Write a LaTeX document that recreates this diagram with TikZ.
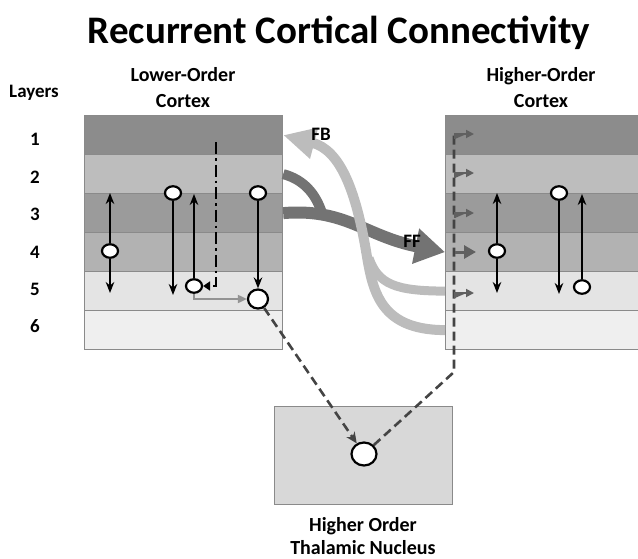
\documentclass[tikz,border=0pt]{standalone}
\usepackage{fontspec}
\setmainfont{Carlito}
\usetikzlibrary{arrows.meta,shapes.geometric}
\definecolor{laya}{HTML}{8C8C8C}
\definecolor{layb}{HTML}{BDBDBD}
\definecolor{layc}{HTML}{9B9B9B}
\definecolor{layd}{HTML}{B2B2B2}
\definecolor{laye}{HTML}{E4E4E4}
\definecolor{layf}{HTML}{EFEFEF}
\definecolor{edge}{HTML}{8A8A8A}
\definecolor{thal}{HTML}{D8D8D8}
\definecolor{ffcol}{HTML}{737373}
\definecolor{fbcol}{HTML}{BCBCBC}
\definecolor{loopgray}{HTML}{444444}
\tikzset{
  layer/.style={draw=edge, line width=1.2pt, rectangle, inner sep=0pt,
    minimum height=39pt, anchor=north west},
  neuron/.style={ellipse, draw=black, line width=2.2pt, fill=white, inner sep=0pt,
    minimum width=16pt, minimum height=13.5pt},
  bigneuron/.style={neuron, minimum width=20pt, minimum height=19pt},
  axon/.style={line width=2.2pt, -{Stealth[length=11pt,width=8.5pt]}},
  lbl/.style={font=\bfseries\fontsize{20}{26}\selectfont, align=center},
  small/.style={font=\bfseries\fontsize{19}{22}\selectfont},
  thaldash/.style={draw=loopgray, line width=2.6pt, dash pattern=on 9pt off 5pt},
  relay/.style={draw=loopgray!85!white, fill=loopgray!85!white, line width=1.8pt,
    -{Triangle[length=8pt,width=8pt]}},
}
\begin{document}
\begin{tikzpicture}[x=1pt,y=-1pt]
\useasboundingbox (0,0) rectangle (638,558);

% title and captions
\node[font=\bfseries\fontsize{39}{44}\selectfont] (title) at (339,33) {Recurrent Cortical Connectivity};
\node[lbl] (lowlbl) at (183,88) {Lower-Order\\Cortex};
\node[lbl] (highlbl) at (541,88) {Higher-Order\\Cortex};
\node[small] (layerslbl) at (34,93) {Layers};
\foreach \i/\y in {1/139,2/177,3/214,4/252,5/289,6/326}
  \node[small] (num\i) at (35,\y) {\i};

% cortical layer stacks
\foreach \i/\c in {1/laya,2/layb,3/layc,4/layd,5/laye,6/layf}{
  \node[layer, fill=\c, minimum width=198pt] (L\i) at (84,{115+39*(\i-1)}) {};
  \node[layer, fill=\c, minimum width=200pt] (R\i) at (445,{115+39*(\i-1)}) {};
}

% thalamic nucleus
\node[draw=edge, line width=1.2pt, fill=thal, minimum width=178pt, minimum height=98pt,
  inner sep=0pt, anchor=north west] (thalbox) at (274,406) {};
\node[lbl, font=\bfseries\fontsize{20}{23}\selectfont] (thallbl) at (363,536) {Higher Order\\Thalamic Nucleus};
\node[neuron, minimum width=25pt, minimum height=23pt] (tc) at (364,454) {};

% feedforward pathway
\draw[ffcol, line width=10pt] (L2.east) .. controls (305,180) and (316,195) .. (322,213);
\draw[ffcol, line width=12pt, -{Triangle[length=30pt,width=34pt]}]
  (L3.east) .. controls (345,208) and (365,236) .. (R4.west);
\node[small] (fflbl) at (412,241) {FF};

% feedback pathway
\draw[fbcol, line width=9pt] (R5.west) .. controls (395,291) and (378,284) .. (369,258);
\draw[fbcol, line width=10pt, -{Triangle[length=32pt,width=30pt]}]
  (R6.west) .. controls (375,330) and (372,285) .. (365,245)
  .. controls (355,190) and (340,150) .. (L1.east);
\node[small] (fblbl) at (321,134) {FB};

% lower-order cortex neurons
\node[neuron] (a1) at (110,251) {};
\coordinate (a1u) at (110,193);
\coordinate (a1d) at (110,293);
\draw[axon] (a1.north) -- (a1u);
\draw[axon] (a1.south) -- (a1d);
\node[neuron] (a2) at (173,193) {};
\coordinate (a2d) at (173,295);
\draw[axon] (a2.south) -- (a2d);
\node[neuron] (a3) at (194,286) {};
\coordinate (a3u) at (194,194);
\draw[axon] (a3.north) -- (a3u);
\node[neuron] (a4) at (258,193) {};
\node[bigneuron] (a5) at (258,299) {};
\draw[axon] (a4.south) -- (a5.north);
\coordinate (dd) at (216,142);
\draw[line width=2.6pt, dash pattern=on 12pt off 4pt on 2.5pt off 4pt,
  -{Triangle[length=7pt,width=9pt]}] (dd) |- (a3.east);
\draw[gray!85, line width=1.8pt, -{Triangle[length=9pt,width=8pt]}] (a3.south) |- (a5.west);

% higher-order cortex neurons
\node[neuron] (b1) at (497,251) {};
\coordinate (b1u) at (497,193);
\coordinate (b1d) at (497,293);
\draw[axon] (b1.north) -- (b1u);
\draw[axon] (b1.south) -- (b1d);
\node[neuron] (b2) at (559,193) {};
\coordinate (b2d) at (559,294);
\draw[axon] (b2.south) -- (b2d);
\node[neuron] (b3) at (582,287) {};
\coordinate (b3u) at (582,194);
\draw[axon] (b3.north) -- (b3u);

% transthalamic loop
\draw[thaldash, -{Stealth[length=11pt,width=10pt]}] (a5) -- (tc);
\coordinate (bend) at (454,372);
\coordinate (top) at (454,132);
\draw[thaldash] (tc) -- (bend) -- (top);
\foreach \y in {134,173,213,293}{
  \coordinate (s\y) at (455,\y+5);
  \coordinate (e\y) at (474,\y);
  \draw[relay] (s\y) |- (e\y);
}
\coordinate (s252) at (455,252);
\coordinate (e252) at (476,252);
\draw[relay, line width=3pt, -{Triangle[length=12pt,width=13pt]}] (s252) -- (e252);
\end{tikzpicture}
\end{document}
